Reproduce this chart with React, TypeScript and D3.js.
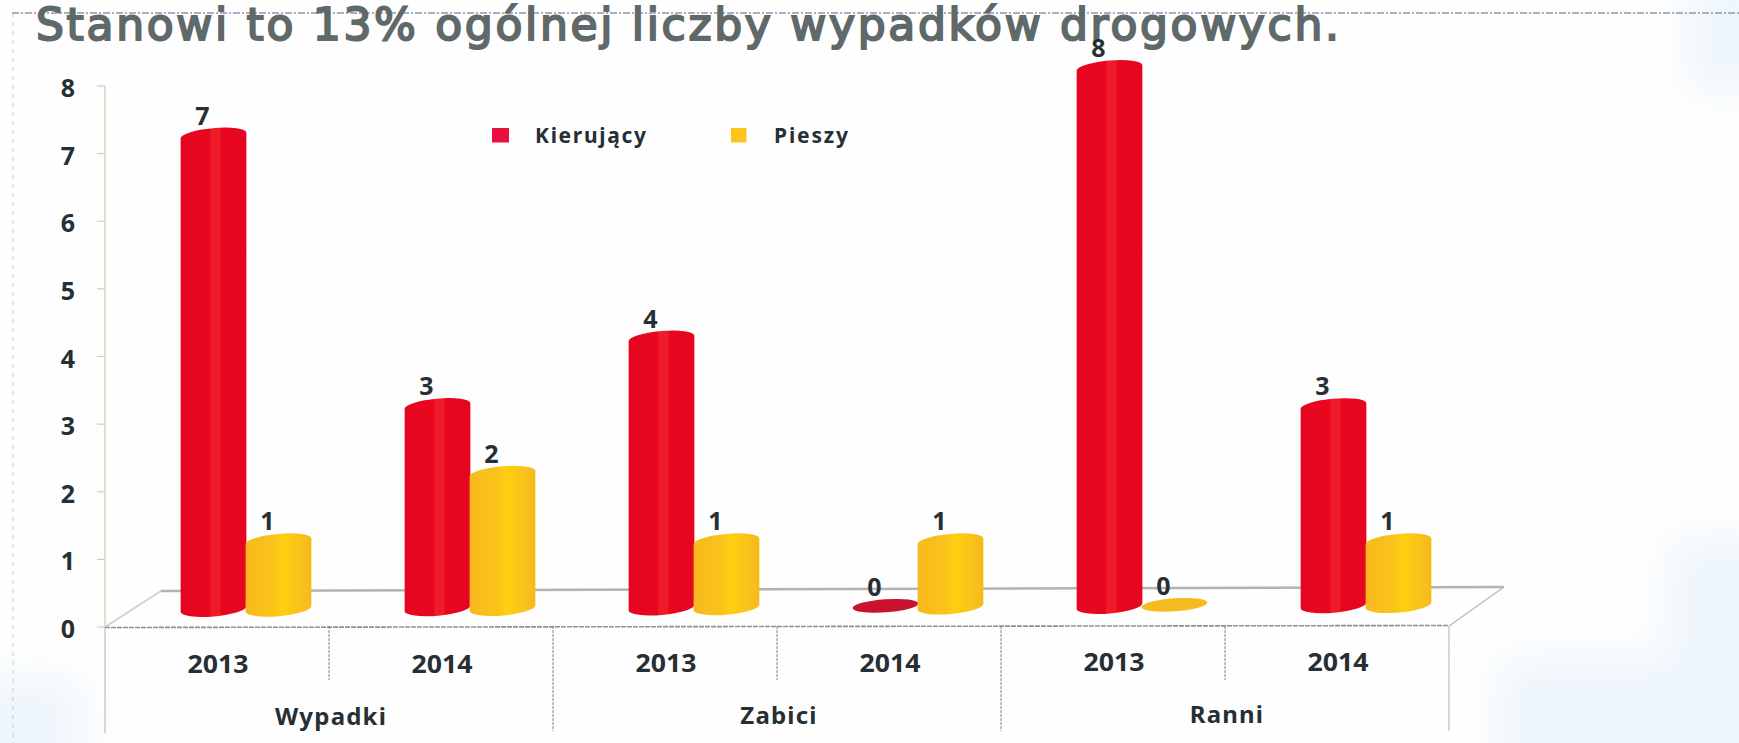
import React from "react";
import * as d3 from "d3";

const title = "Stanowi to 13% ogólnej liczby wypadków drogowych.";
const groups = ["Wypadki", "Zabici", "Ranni"];
const years = ["2013", "2014", "2013", "2014", "2013", "2014"];
const kierujacy = [7, 3, 4, 0, 8, 3];
const pieszy = [1, 2, 1, 1, 0, 1];
const yTicks = [0, 1, 2, 3, 4, 5, 6, 7, 8];

const W = 1739, H = 743;
const y = d3.scaleLinear().domain([0, 8]).range([609, 68]);
const x = d3.scaleBand<number>().domain(d3.range(6)).range([105, 1449]);
const groupX = d3.scaleBand<number>().domain(d3.range(3)).range([105, 1449]);
const barW = 65;
const depthShift = 29;
const tiltDeg = -5;
const rx = barW / 2 + 0.5, ry = 7.5;
const sin = Math.sin((5 * Math.PI) / 180), cos = Math.cos((5 * Math.PI) / 180);
const baseY = (cx: number) => 609 - (cx - 213) * 0.0033;
const FONT = "'Noto Sans', sans-serif";
const INK = "#262f33";

function cylinder(cx: number, top: number, bottom: number) {
  const dx = rx * cos, dy = rx * sin;
  return `M${cx - dx},${top + dy}A${rx},${ry} ${tiltDeg} 0 1 ${cx + dx},${top - dy}` +
    `L${cx + dx},${bottom - dy}A${rx},${ry} ${tiltDeg} 0 1 ${cx - dx},${bottom + dy}Z`;
}

function Bar({ cx, v, kind }: { cx: number; v: number; kind: "red" | "yellow" }) {
  const b = baseY(cx);
  const top = v === 0 ? b : y(v);
  return (
    <g>
      {v === 0 ? (
        <ellipse cx={cx} cy={b - 1} rx={rx} ry={6.5} transform={`rotate(-4 ${cx} ${b - 1})`}
          fill={kind === "red" ? "#c9122f" : "#f6bb1f"} />
      ) : (
        <path d={cylinder(cx, top, b)} fill={`url(#grad-${kind})`} />
      )}
      <text x={cx - 11} y={top - 11} textAnchor="middle" fontFamily={FONT} fontWeight={700} fontSize={25} fill={INK}>{v}</text>
    </g>
  );
}

export default function App() {
  const centers = d3.range(6).map((i) => (x(i) as number) + x.bandwidth() / 2 + depthShift);
  return (
    <svg width={W} height={H} viewBox={`0 0 ${W} ${H}`} style={{ position: "absolute", left: 0, top: 0, display: "block", background: "#fefefe" }}>
      <defs>
        <linearGradient id="grad-red" x1="0" x2="1" y1="0" y2="0">
          <stop offset="0" stopColor="#e60520" />
          <stop offset="0.44" stopColor="#e8061f" />
          <stop offset="0.46" stopColor="#ef1c28" />
          <stop offset="0.6" stopColor="#ef1c28" />
          <stop offset="0.62" stopColor="#e8061f" />
          <stop offset="1" stopColor="#e60520" />
        </linearGradient>
        <linearGradient id="grad-yellow" x1="0" x2="1" y1="0" y2="0">
          <stop offset="0" stopColor="#f7b91f" />
          <stop offset="0.45" stopColor="#fac418" />
          <stop offset="0.56" stopColor="#fdd010" />
          <stop offset="1" stopColor="#f7b91f" />
        </linearGradient>
        <filter id="soft" x="-30%" y="-30%" width="160%" height="160%">
          <feGaussianBlur stdDeviation="22" />
        </filter>
      </defs>

      <g filter="url(#soft)" fill="#edf5fb">
        <rect x={-30} y={680} width={110} height={100} />
        <rect x={1500} y={660} width={280} height={120} />
        <rect x={1670} y={540} width={110} height={130} />
        <rect x={1690} y={-20} width={80} height={110} />
      </g>

      <line x1={13} x2={13} y1={13} y2={743} stroke="#c4ccd6" strokeWidth={1} strokeDasharray="4 5" />
      <line x1={12} x2={W} y1={13} y2={13} stroke="#8f96b0" strokeWidth={1.4} strokeDasharray="7 2 2 2" />

      <text x={36} y={40} fontFamily="'DejaVu Sans', sans-serif" fontSize={44} fontWeight={400} stroke="#5f6969" strokeWidth={2} fill="#5f6969" textLength={1303} lengthAdjust="spacing">{title}</text>

      {/* floor */}
      <path d="M105,627L161,591" stroke="#d3cfc4" strokeWidth={1.5} fill="none" />
      <path d="M1449,626L1504,587" stroke="#bdbdbd" strokeWidth={1.5} fill="none" />
      <line x1={161} y1={591} x2={1504} y2={587} stroke="#b3b3b3" strokeWidth={2.5} />
      <line x1={105} y1={627.5} x2={1449} y2={625.5} stroke="#8c9490" strokeWidth={1.6} strokeDasharray="5 1" />

      {/* value axis */}
      <line x1={105} x2={105} y1={86} y2={627} stroke="#e2cfba" strokeWidth={1.5} />
      {yTicks.map((t) => {
        const ty = 627 - t * ((627 - 86) / 8);
        return (
          <g key={t}>
            <line x1={97} x2={105} y1={ty} y2={ty} stroke="#c9c4bc" strokeWidth={1} />
            <text x={68} y={ty + 11} textAnchor="middle" fontFamily={FONT} fontWeight={700} fontSize={25} fill={INK}>{t}</text>
          </g>
        );
      })}

      {/* category dividers */}
      <line x1={105} x2={105} y1={627} y2={733} stroke="#aab0bb" strokeWidth={1} />
      {d3.range(1, 7).map((i) => {
        const lx = (x(0) as number) + i * x.step();
        const major = i % 2 === 0;
        return <line key={i} x1={lx} x2={lx} y1={626} y2={major ? 731 : 680} stroke={major && i === 6 ? "#aab4c4" : "#80868c"} strokeWidth={1} strokeDasharray={i === 6 ? undefined : "3 1"} />;
      })}

      {/* cylinders */}
      {centers.map((c, i) => (
        <g key={i}>
          <Bar cx={c - barW / 2} v={kierujacy[i]} kind="red" />
          <Bar cx={c + barW / 2} v={pieszy[i]} kind="yellow" />
        </g>
      ))}

      {/* category labels */}
      {years.map((yr, i) => (
        <text key={i} x={(x(i) as number) + x.bandwidth() / 2 + 1} y={673 - i * 0.4} textAnchor="middle" fontFamily={FONT} fontWeight={700} fontSize={25} fill={INK} textLength={61} lengthAdjust="spacingAndGlyphs">{yr}</text>
      ))}
      {groups.map((g, i) => (
        <text key={g} x={(groupX(i) as number) + groupX.bandwidth() / 2 + 2} y={725 - i * 1.2} textAnchor="middle" fontFamily={FONT} fontWeight={700} fontSize={24} letterSpacing={1.2} fill={INK}>{g}</text>
      ))}

      {/* legend */}
      <rect x={492} y={128} width={17} height={14.5} fill="#e8103f" />
      <text x={535} y={143} fontFamily={FONT} fontWeight={700} fontSize={21} fill={INK} textLength={111} lengthAdjust="spacing">Kierujący</text>
      <rect x={731} y={128} width={15.5} height={14.5} fill="#fcc51c" />
      <text x={774} y={143} fontFamily={FONT} fontWeight={700} fontSize={21} fill={INK} textLength={74} lengthAdjust="spacing">Pieszy</text>
    </svg>
  );
}
